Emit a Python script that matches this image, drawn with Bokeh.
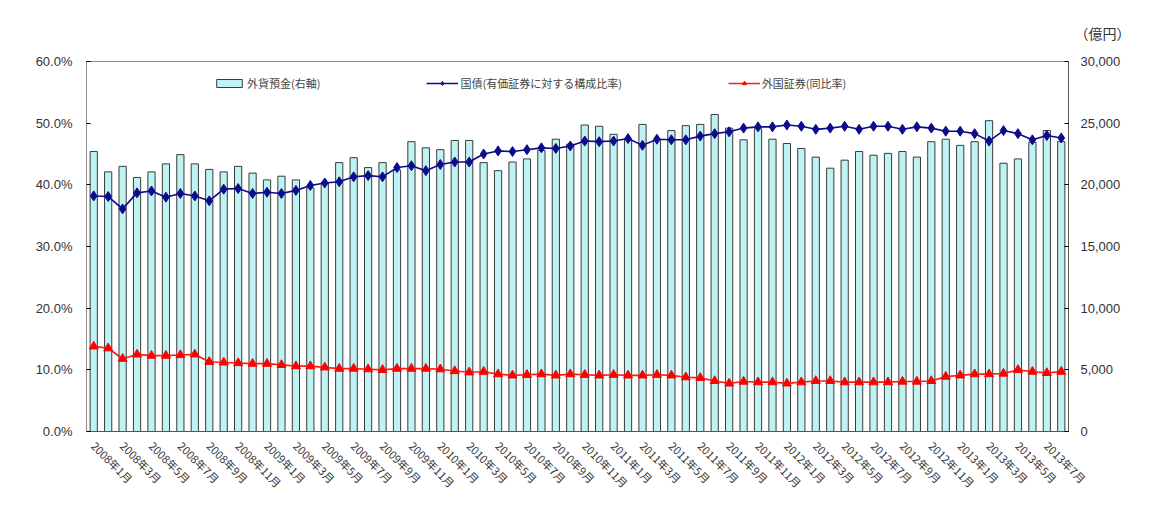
import math
from bokeh.plotting import figure
from bokeh.models import (Range1d, LinearAxis, Legend, LegendItem, Title,
                          PrintfTickFormatter, NumeralTickFormatter, FixedTicker, ColumnDataSource)
from bokeh.embed import file_html
from bokeh.resources import INLINE

# ---- data ----
months = [f"{y}年{m}月" for y in range(2008, 2014) for m in range(1, 13)][:68]

deposits = [22700, 21050, 21500, 20600, 21050, 21700, 22450, 21700, 21250, 21050,
            21500, 20950, 20400, 20700, 20400, 19750, 20200, 21800, 22200, 21400,
            21800, 21200, 23500, 23000, 22850, 23600, 23600, 21800, 21150, 21850,
            22100, 22800, 23700, 23300, 24850, 24750, 24100, 23700, 24900, 23600,
            24400, 24800, 24900, 25700, 24600, 23650, 24550, 23700, 23350, 22950,
            22250, 21350, 22000, 22700, 22400, 22550, 22700, 22250, 23500, 23700,
            23200, 23500, 25200, 21750, 22100, 23450, 24400, 23500]

jgb_ratio = [38.2, 38.1, 36.1, 38.7, 39.0, 38.0, 38.6, 38.2, 37.4, 39.3,
             39.4, 38.6, 38.8, 38.6, 39.1, 39.9, 40.3, 40.5, 41.3, 41.5,
             41.3, 42.8, 43.1, 42.3, 43.3, 43.7, 43.7, 45.0, 45.5, 45.4,
             45.7, 46.0, 45.9, 46.3, 47.1, 47.0, 47.1, 47.5, 46.4, 47.4,
             47.3, 47.3, 47.9, 48.3, 48.6, 49.2, 49.4, 49.4, 49.7, 49.5,
             49.0, 49.2, 49.5, 49.0, 49.5, 49.5, 49.0, 49.4, 49.2, 48.7,
             48.7, 48.3, 47.1, 48.8, 48.3, 47.3, 48.0, 47.6]

foreign_ratio = [13.8, 13.5, 11.8, 12.5, 12.3, 12.3, 12.4, 12.5, 11.3, 11.2,
                 11.1, 11.0, 11.0, 10.8, 10.6, 10.6, 10.4, 10.2, 10.2, 10.1,
                 10.0, 10.2, 10.2, 10.2, 10.1, 9.8, 9.6, 9.7, 9.3, 9.1,
                 9.2, 9.3, 9.1, 9.3, 9.2, 9.1, 9.2, 9.1, 9.1, 9.2,
                 9.1, 8.8, 8.7, 8.2, 7.8, 8.1, 8.0, 8.0, 7.8, 8.0,
                 8.2, 8.2, 8.0, 8.0, 8.0, 8.0, 8.1, 8.1, 8.2, 8.9,
                 9.1, 9.3, 9.3, 9.4, 10.0, 9.7, 9.5, 9.7]

series_names = ["外貨預金(右軸)", "国債(有価証券に対する構成比率)", "外国証券(同比率)"]
unit_label = "（億円）"

idx = list(range(len(months)))
src = ColumnDataSource(dict(x=idx, dep=deposits, jgb=jgb_ratio, fr=foreign_ratio))

JP = "Noto Sans CJK JP"
NUM = "Liberation Sans"
TXT = "#333333"

p = figure(width=1146, height=524, frame_width=982, frame_height=370,
           min_border_left=86, min_border_right=78, min_border_top=61, min_border_bottom=93,
           x_range=Range1d(-0.5, len(months) - 0.5), y_range=Range1d(0, 60),
           output_backend="svg", toolbar_location=None)
p.extra_y_ranges = {"yen": Range1d(0, 30000)}
p.xgrid.grid_line_color = None
p.ygrid.grid_line_color = None
p.outline_line_color = "#8c8c8c"
p.background_fill_color = "white"
p.border_fill_color = "white"

bars = p.vbar(x="x", top="dep", width=0.5, bottom=0, source=src, y_range_name="yen",
              fill_color="#bff3f3", line_color="#3a3a3a", line_width=1)

l1 = p.line("x", "jgb", source=src, line_color="#0b0b8c", line_width=1.6)
s1 = p.scatter("x", "jgb", source=src, marker="diamond", size=10,
               fill_color="#0b0b8c", line_color="#0b0b8c")
l2 = p.line("x", "fr", source=src, line_color="#ff1a1a", line_width=1.6)
s2 = p.scatter("x", "fr", source=src, marker="triangle", size=9,
               fill_color="#ff0000", line_color="#ff0000")

# axes
xa = p.xaxis[0]
xa.ticker = FixedTicker(ticks=idx[::2])
xa.major_label_overrides = {i: months[i] for i in idx[::2]}
xa.major_label_orientation = -math.pi / 4
xa.major_label_text_font = JP
xa.major_label_text_font_size = "11px"
xa.major_label_text_color = TXT
xa.major_label_standoff = 6
xa.major_tick_line_color = None
xa.minor_tick_line_color = None
xa.axis_line_color = "#555555"

ya = p.yaxis[0]
ya.ticker = FixedTicker(ticks=[0, 10, 20, 30, 40, 50, 60])
ya.formatter = PrintfTickFormatter(format="%.1f%%")
ya.major_label_text_font = NUM
ya.major_label_text_font_size = "13px"
ya.major_label_text_color = TXT
ya.major_tick_in = 4
ya.major_tick_out = 0
ya.minor_tick_line_color = None
ya.axis_line_color = "#8c8c8c"
ya.major_label_standoff = 14

ra = LinearAxis(y_range_name="yen", ticker=FixedTicker(ticks=[0, 5000, 10000, 15000, 20000, 25000, 30000]),
                formatter=NumeralTickFormatter(format="0,0"))
ra.major_label_text_font = NUM
ra.major_label_text_font_size = "13px"
ra.major_label_text_color = TXT
ra.major_tick_in = 4
ra.major_tick_out = 0
ra.minor_tick_line_color = None
ra.axis_line_color = "#555555"
ra.major_label_standoff = 12
p.add_layout(ra, "right")

# unit label
p.add_layout(Title(text=unit_label, align="right", offset=-62, standoff=37,
                   text_font=JP, text_font_size="14px", text_color=TXT,
                   text_font_style="normal"), "above")

legend = Legend(items=[LegendItem(label=series_names[0], renderers=[bars]),
                       LegendItem(label=series_names[1], renderers=[l1, s1]),
                       LegendItem(label=series_names[2], renderers=[l2, s2])],
                orientation="horizontal", location=(127, 340), spacing=106,
                glyph_width=32, glyph_height=10, label_standoff=2, padding=0, margin=0,
                border_line_color=None, background_fill_alpha=0,
                label_text_font=JP, label_text_font_size="11px", label_text_color="#444444")
p.add_layout(legend, "center")

open("out.html", "w").write(file_html(p, INLINE))
